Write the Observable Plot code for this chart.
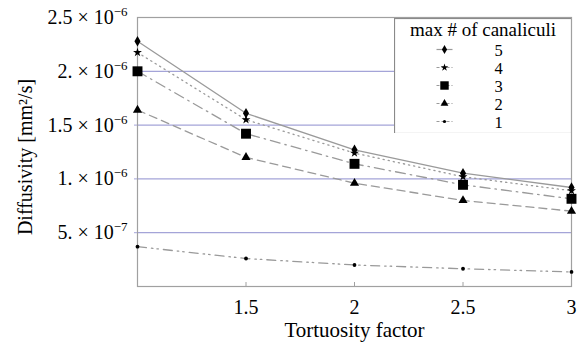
<!DOCTYPE html>
<html><head><meta charset="utf-8">
<script src="https://cdn.jsdelivr.net/npm/d3@7"></script>
<script src="https://cdn.jsdelivr.net/npm/@observablehq/plot@0.6"></script>
<style>
body{margin:0;background:#fff;}
#wrap{position:relative;width:585px;height:347px;font-family:"Liberation Serif",serif;}
#legend{position:absolute;left:394px;top:18px;}
svg, svg text, svg tspan{font-family:"Liberation Serif", "Times New Roman", serif !important;}
</style>
</head><body><div id="wrap"><div id="chart"></div><div id="legend"></div></div>
<script>
// ---- data ----
const tortuosity = [1, 1.5, 2, 2.5, 3];
const series5 = [2.28e-6, 1.61e-6, 1.27e-6, 1.053e-6, 0.92e-6];
const series4 = [2.175e-6, 1.55e-6, 1.24e-6, 1.02e-6, 0.89e-6];
const series3 = [2.0e-6, 1.42e-6, 1.14e-6, 0.945e-6, 0.815e-6];
const series2 = [1.64e-6, 1.20e-6, 0.96e-6, 0.80e-6, 0.70e-6];
const series1 = [0.37e-6, 0.26e-6, 0.20e-6, 0.165e-6, 0.135e-6];
const seriesNames = ["5", "4", "3", "2", "1"];
const seriesValues = [series5, series4, series3, series2, series1];
const xTicks = [1.5, 2, 2.5, 3];
const yGrid = [5e-7, 1e-6, 1.5e-6, 2e-6];
const yTicks = [5e-7, 1e-6, 1.5e-6, 2e-6, 2.5e-6];
const yTickMantissa = ["5.", "1.", "1.5", "2.", "2.5"];
const yTickExponent = ["\u22127", "\u22126", "\u22126", "\u22126", "\u22126"];
const legendTitle = "max # of canaliculi";
const xLabel = "Tortuosity factor";
const yLabel = "Diffusivity [mm\u00b2/s]";

// ---- styles ----
const styles = {
  "5": {symbol: "diamond", r: 3.2, dash: null},
  "4": {symbol: "star", r: 2.8, dash: "1.2,4"},
  "3": {symbol: "square", r: 5.6, dash: "10,5,1.5,5"},
  "2": {symbol: "triangle", r: 3.4, dash: "8,5"},
  "1": {symbol: "circle", r: 1.9, dash: "9,5,1.5,4,1.5,5"}
};
const lineColor = "#9a9a9a";
const gridColor = "#a4a4d8";
const FONT = '"Liberation Serif", serif';

const rows = [];
seriesNames.forEach((s, k) => tortuosity.forEach((t, i) => rows.push({series: s, x: t, y: seriesValues[k][i]})));

const lineMarks = seriesNames.map(s => Plot.line(rows.filter(d => d.series === s), {
  x: "x", y: "y", stroke: lineColor, strokeWidth: 1.3, strokeDasharray: styles[s].dash
}));
const dotMarks = seriesNames.map(s => Plot.dot(rows.filter(d => d.series === s), {
  x: "x", y: "y", symbol: styles[s].symbol, r: styles[s].r, fill: "black", stroke: "none"
}));

const yLabelText = d => yTickMantissa[yTicks.indexOf(d)] + " \u00d7 10";

const chart = Plot.plot({
  width: 585, height: 347,
  marginLeft: 137, marginRight: 14, marginTop: 17, marginBottom: 61,
  style: {fontFamily: FONT, fontSize: "20px", background: "white", color: "black"},
  x: {domain: [1, 3]},
  y: {domain: [0, 2.5e-6]},
  marks: [
    Plot.ruleY(yGrid, {stroke: gridColor, strokeWidth: 1.2}),
    Plot.frame({stroke: "#a0a0a0", strokeWidth: 1.2}),
    Plot.axisX({ticks: xTicks, tickSize: 0, tickPadding: 13, tickFormat: d => String(d), label: null, fontSize: 20, fontFamily: FONT}),
    Plot.axisX({ticks: xTicks, tickSize: 4, dy: -4, tickFormat: () => "", stroke: "#a0a0a0", label: null}),
    Plot.axisY({ticks: yGrid, tickSize: 3, tickFormat: () => "", stroke: gridColor, label: null}),
    Plot.axisY({ticks: yTicks, tickSize: 0, tickPadding: 10, label: null, fontSize: 20, fontFamily: FONT, tickFormat: yLabelText}),
    ...lineMarks,
    ...dotMarks,
    Plot.text([xLabel], {frameAnchor: "bottom", dy: 50, fontSize: 21, fontFamily: FONT}),
    Plot.text([yLabel], {frameAnchor: "left", textAnchor: "middle", lineAnchor: "middle", rotate: -90, dx: -112, dy: 5, fontSize: 20, fontFamily: FONT})
  ]
});
document.getElementById("chart").appendChild(chart);

// superscripts on y tick labels
const labelToExp = new Map(yTicks.map((t, i) => [yLabelText(t), yTickExponent[i]]));
d3.select(chart).selectAll("text").each(function() {
  const el = d3.select(this);
  const txt = el.text();
  if (labelToExp.has(txt)) {
    el.append("tspan").attr("dy", "-8").attr("font-size", 13).text(labelToExp.get(txt));
  }
});

// ---- legend ----
function lineSymbol(len) {
  return {draw(ctx) { ctx.moveTo(-len / 2, 0); ctx.lineTo(len / 2, 0); }};
}
const legendRows = [legendTitle, ...seriesNames];
const legend = Plot.plot({
  width: 177, height: 115, margin: 0,
  style: {fontFamily: FONT, fontSize: "16px", background: "white", color: "black"},
  x: {axis: null},
  y: {type: "point", domain: legendRows, padding: 0.62, axis: null},
  marks: [
    Plot.frame({stroke: "#8a8a8a", strokeWidth: 1.2}),
    Plot.text([legendTitle], {y: d => d, frameAnchor: "middle", dy: -1.5, fontSize: 19, fontFamily: FONT}),
    ...seriesNames.map(s => Plot.dot([s], {y: d => d, frameAnchor: "left", dx: 50, symbol: lineSymbol(16), r: 3, stroke: lineColor, strokeWidth: 1.2, strokeDasharray: styles[s].dash ? "3,2" : null, fill: "none"})),
    ...seriesNames.map(s => Plot.dot([s], {y: d => d, frameAnchor: "left", dx: 50, symbol: styles[s].symbol, r: styles[s].r * 0.85, fill: "black", stroke: "none"})),
    Plot.text(seriesNames, {y: d => d, frameAnchor: "left", textAnchor: "middle", dx: 104, dy: 1, fontSize: 16.5, fontFamily: FONT})
  ]
});
document.getElementById("legend").appendChild(legend);
</script>
</body></html>
